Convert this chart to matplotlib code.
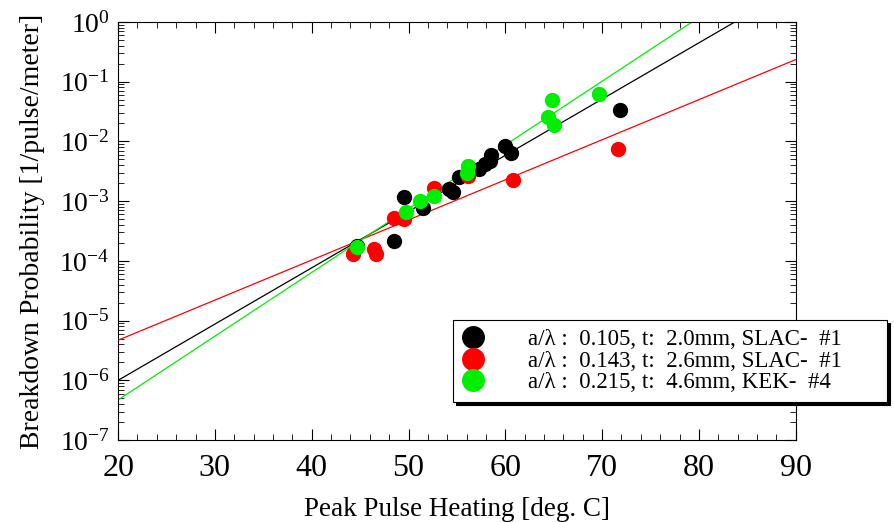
import matplotlib.pyplot as plt
from matplotlib.ticker import MultipleLocator, LogLocator

plt.rcParams['font.family'] = ['Liberation Serif', 'DejaVu Serif']
plt.rcParams['mathtext.fontset'] = 'custom'
plt.rcParams['mathtext.rm'] = 'Liberation Serif'

# data
black_x = [44.7, 48.5, 49.5, 51.5, 54.2, 54.6, 55.2, 57.3, 57.9, 58.4, 58.5, 60.0, 60.6, 71.8]
black_y = [1.8e-4, 2.15e-4, 1.17e-3, 7.6e-4, 1.6e-3, 1.4e-3, 2.5e-3, 3.4e-3, 4.2e-3, 4.7e-3,
           5.9e-3, 8.5e-3, 6.3e-3, 3.4e-2]
red_x = [44.3, 46.4, 46.6, 48.5, 49.5, 52.6, 56.1, 60.8, 71.6]
red_y = [1.3e-4, 1.6e-4, 1.3e-4, 5.2e-4, 5.0e-4, 1.65e-3, 2.6e-3, 2.3e-3, 7.4e-3]
green_x = [44.7, 49.7, 51.2, 52.6, 56.0, 56.1, 64.4, 64.8, 65.0, 69.7]
green_y = [1.7e-4, 6.6e-4, 1.0e-3, 1.2e-3, 3.0e-3, 3.8e-3, 2.6e-2, 5.0e-2, 1.9e-2, 6.3e-2]

# fitted lines (end points)
fit_x = [20, 90]
black_fit = [1.0e-6, 3.9]
red_fit = [4.7e-6, 0.234]
green_fit = [4.7e-7, 13.8]

labels = ['a/λ :  0.105, t:  2.0mm, SLAC-  #1',
          'a/λ :  0.143, t:  2.6mm, SLAC-  #1',
          'a/λ :  0.215, t:  4.6mm, KEK-  #4']

fig = plt.figure(figsize=(8.95, 5.22), dpi=100)
ax = fig.add_axes([0.132, 0.157, 0.757, 0.801])

ax.plot(fit_x, black_fit, color='black', lw=0.9)
ax.plot(fit_x, red_fit, color='red', lw=0.9)
ax.plot(fit_x, green_fit, color='#00ee00', lw=0.9)

ax.plot(black_x, black_y, 'o', color='black', ms=10, label=labels[0])
ax.plot(red_x, red_y, 'o', color='red', ms=10, label=labels[1])
ax.plot(green_x, green_y, 'o', color='#00ee00', ms=10, label=labels[2])

ax.set_yscale('log')
ax.set_xlim(20, 90)
ax.set_ylim(1e-7, 1)
ax.xaxis.set_major_locator(MultipleLocator(10))
ax.xaxis.set_minor_locator(MultipleLocator(2))
ax.yaxis.set_major_locator(LogLocator(base=10, numticks=10))
ax.yaxis.set_minor_locator(LogLocator(base=10, subs=range(2, 10), numticks=20))
ax.tick_params(which='both', direction='in', top=True, right=True)
ax.tick_params(which='major', length=8)
ax.tick_params(which='minor', length=4)
ax.tick_params(axis='x', labelsize=23, pad=10)
ax.tick_params(axis='y', labelsize=20, pad=6)

ax.set_xlabel('Peak Pulse Heating [deg. C]', fontsize=19.5, labelpad=10)
ax.set_ylabel('Breakdown Probability [1/pulse/meter]', fontsize=20, labelpad=10)

leg = ax.legend(loc='upper left', bbox_to_anchor=(0.506, 0.224, 0.485, 0.163),
                bbox_transform=fig.transFigure, mode='expand',
                fontsize=16.5, markerscale=1.55, handletextpad=1.9, handlelength=1.0,
                fancybox=False, framealpha=1, edgecolor='black',
                shadow={'color': 'black', 'alpha': 1}, borderaxespad=0,
                labelspacing=0.02)
leg.get_frame().set_linewidth(0.8)

fig.savefig('out.png', dpi=100)
